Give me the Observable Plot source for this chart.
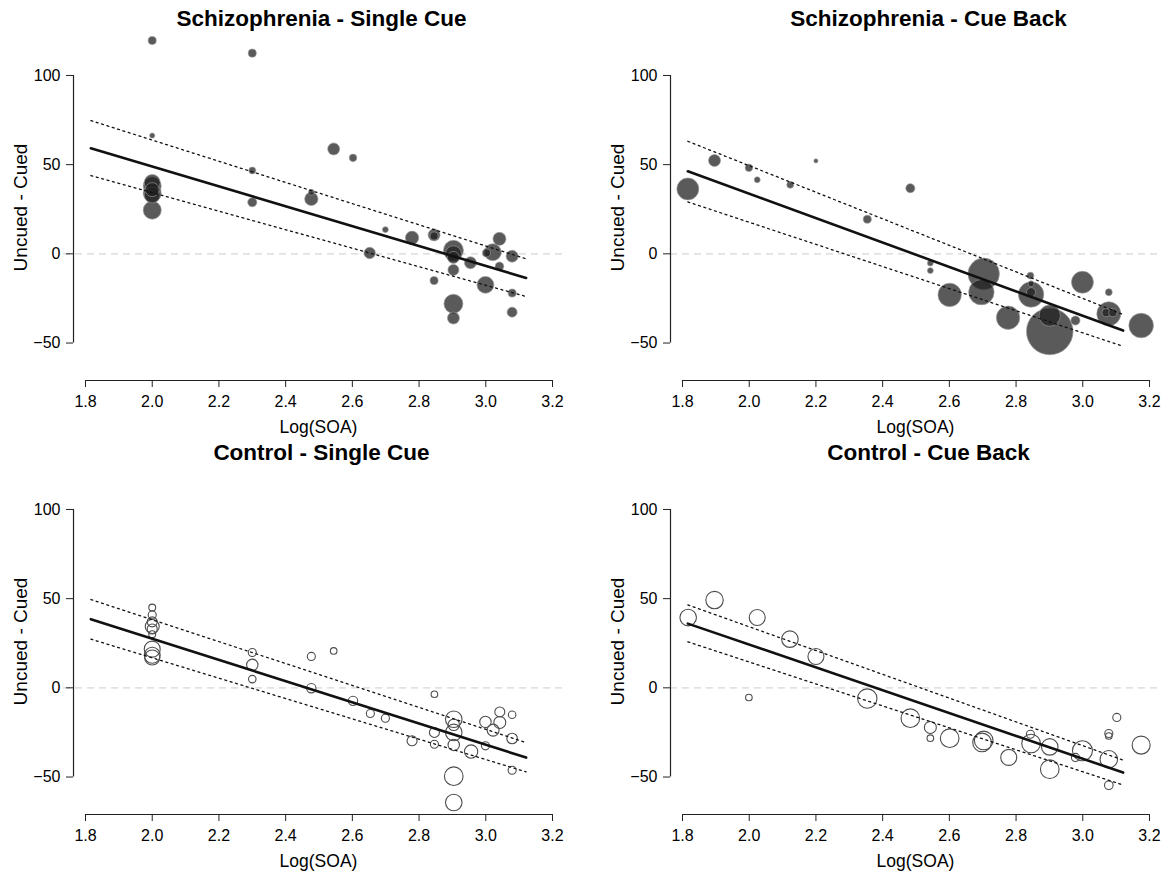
<!DOCTYPE html>
<html>
<head>
<meta charset="utf-8">
<script src="https://cdn.jsdelivr.net/npm/d3@7"></script>
<script src="https://cdn.jsdelivr.net/npm/@observablehq/plot@0.6"></script>
<style>
  html, body { margin: 0; padding: 0; background: #fff; }
  #grid { display: grid; grid-template-columns: 584px 584px; width: 1168px; }
  #grid svg { display: block; }
</style>
</head>
<body>
<div id="grid"></div>
<script>
// ---- tick labels ----
const xTicks = [1.8, 2.0, 2.2, 2.4, 2.6, 2.8, 3.0, 3.2];
const yTicks = [-50, 0, 50, 100];
const xLabel = "Log(SOA)";
const yLabel = "Uncued - Cued";
const titles = ["Schizophrenia - Single Cue", "Schizophrenia - Cue Back", "Control - Single Cue", "Control - Cue Back"];

// ---- studies: [log SOA, uncued - cued, weight] ----
const schizSingle = [
  [2.0, 119.6, 15], [2.3, 112.5, 15], [2.0, 66.3, 6], [2.3, 46.7, 11], [2.3, 28.9, 19],
  [2.0, 40, 59], [2.0, 38, 75], [2.0, 36, 45], [2.0, 34, 75], [2.0, 33, 59], [2.0, 24.5, 75],
  [2.477, 30.8, 41], [2.477, 34.5, 8], [2.544, 58.8, 33], [2.602, 53.8, 13], [2.699, 13.6, 8],
  [2.652, 0.5, 30], [2.779, 9, 41], [2.845, 10.6, 33], [2.845, 10, 15], [2.845, -15, 15],
  [2.903, 2, 92], [2.903, 0, 59], [2.903, -2, 33], [2.903, -9, 28], [2.903, -28, 83], [2.903, -36, 33],
  [2.954, -5, 33], [2.999, -17.4, 66], [3.021, 0.9, 66], [3.002, 0.5, 15], [3.041, 8.4, 39],
  [3.041, -7, 17], [3.079, -1.3, 33], [3.079, -22, 15], [3.079, -32.7, 23]
];
const schizBack = [
  [1.816, 36.4, 111], [1.896, 52.3, 33], [1.999, 48.2, 13], [2.024, 41.5, 8], [2.2, 52.1, 4],
  [2.123, 38.7, 11], [2.354, 19.4, 15], [2.483, 36.8, 19], [2.543, -5.2, 8], [2.543, -9.4, 8],
  [2.601, -23, 126], [2.703, -11.2, 227], [2.696, -21.5, 148], [2.776, -35.8, 126],
  [2.843, -12.2, 11], [2.845, -16.8, 8], [2.845, -22.8, 148], [2.845, -21.5, 19],
  [2.901, -34.6, 105], [2.901, -43.5, 500], [2.978, -37.4, 19], [2.999, -15.9, 111],
  [3.078, -21.5, 11], [3.078, -33.6, 133], [3.07, -33, 15], [3.09, -33, 15], [3.175, -40.2, 139]
];
const controlSingle = [
  [2.0, 45, 11], [2.0, 40.9, 15], [2.0, 37, 23], [2.0, 34.4, 45], [2.0, 33, 23], [2.0, 30.1, 11],
  [2.0, 21.7, 59], [2.0, 18.3, 59], [2.0, 17, 52], [2.3, 19.8, 15], [2.3, 12.9, 30], [2.3, 4.9, 13],
  [2.477, 17.6, 15], [2.477, -0.2, 20], [2.544, 20.7, 10], [2.602, -7.3, 20], [2.654, -14.4, 15],
  [2.699, -17, 15], [2.779, -29.7, 23], [2.846, -3.6, 10], [2.846, -25, 23], [2.846, -31.6, 15],
  [2.904, -17.6, 63], [2.904, -20.7, 30], [2.904, -25, 63], [2.904, -32, 30], [2.904, -49.5, 80],
  [2.904, -64.3, 63], [2.956, -35.7, 41], [2.999, -19.1, 30], [2.999, -32.5, 15], [3.022, -23.7, 33],
  [3.042, -13.5, 23], [3.042, -19.4, 33], [3.079, -15.1, 13], [3.079, -28.4, 26], [3.079, -46.2, 15]
];
const controlBack = [
  [1.817, 39.4, 63], [1.896, 49.2, 70], [2.024, 39.4, 59], [1.999, -5.4, 10], [2.122, 27.3, 63],
  [2.2, 17.6, 59], [2.354, -6, 86], [2.483, -17, 80], [2.543, -22.2, 33], [2.543, -28.2, 10],
  [2.601, -28.2, 80], [2.698, -30.6, 80], [2.703, -29.5, 80], [2.778, -39, 59], [2.843, -26, 15],
  [2.845, -31.2, 80], [2.901, -33.1, 63], [2.901, -45.6, 80], [2.978, -39, 15], [2.999, -35.3, 92],
  [3.102, -16.6, 15], [3.078, -25.6, 15], [3.078, -27, 10], [3.078, -40, 70], [3.078, -54.6, 17],
  [3.175, -32.1, 75]
];

// ---- regression lines: fitted value and band at the two ends ----
const fitX = [1.816, 3.121];
const schizSingleFit = [59.2, -13.5], schizSingleLo = [43.9, -23.9], schizSingleHi = [74.7, -2.8];
const schizBackFit = [46.3, -43.0], schizBackLo = [29.1, -51.8], schizBackHi = [63.1, -34.0];
const controlSingleFit = [38.5, -39.1], controlSingleLo = [27.3, -47.1], controlSingleHi = [49.5, -30.7];
const controlBackFit = [36.0, -47.5], controlBackLo = [25.8, -54.5], controlBackHi = [46.5, -40.5];

const FONT = "'Liberation Sans', Arial, Helvetica, sans-serif";

function panel({title, pts, fit, lo, hi, filled, left, top}) {
  const rows = pts.map(([x, y, n]) => ({x, y, n}));
  const line = fitX.map((x, i) => ({x, fit: fit[i], lo: lo[i], hi: hi[i]}));
  const height = top ? 438 : 443;
  const marginTop = top ? 30 : 26;
  const frameH = 350;
  const axisAt = 1.764;                       // where the y-axis line sits
  const axisShift = left ? 10 : 0;            // px between frame edge and y axis
  const xDomain = [left ? 1.734 : 1.764, 3.233];
  const yDomain = [-71.0, 125.2];
  return Plot.plot({
    width: 584,
    height,
    marginLeft: left ? 63 : 86,
    marginRight: left ? 21 : 8,
    marginTop,
    marginBottom: height - marginTop - frameH,
    x: {domain: xDomain},
    y: {domain: yDomain},
    r: {type: "sqrt", domain: [0, 500], range: [0, 23.3]},
    style: {fontFamily: FONT, fontSize: "16px", color: "#000", background: "#fff", overflow: "visible"},
    marks: [
      Plot.ruleY([0], {stroke: "#d6d6d6", strokeWidth: 1.4, strokeDasharray: "7,5"}),
      Plot.dot(rows, filled
        ? {x: "x", y: "y", r: "n", fill: "#202020", fillOpacity: 0.74, stroke: "#9a9a9a", strokeOpacity: 0.8, strokeWidth: 0.8}
        : {x: "x", y: "y", r: "n", fill: "none", stroke: "#4d4d4d", strokeWidth: 1.1}),
      Plot.line(line, {x: "x", y: "fit", stroke: "#111", strokeWidth: 2.6}),
      Plot.line(line, {x: "x", y: "lo", stroke: "#111", strokeWidth: 1.3, strokeDasharray: "2,3.6"}),
      Plot.line(line, {x: "x", y: "hi", stroke: "#111", strokeWidth: 1.3, strokeDasharray: "2,3.6"}),
      // axes (R style: line spans only the ticks)
      Plot.ruleX([axisAt], {y1: d3.min(yTicks), y2: d3.max(yTicks), stroke: "#222", strokeWidth: 1.2}),
      Plot.axisY({ticks: yTicks, tickSize: 7, tickPadding: 6, fontSize: 16, stroke: "#222", label: null, dx: axisShift}),
      Plot.ruleY([yDomain[0]], {x1: d3.min(xTicks), x2: d3.max(xTicks), stroke: "#222", strokeWidth: 1.2}),
      Plot.axisX({ticks: xTicks, tickFormat: d3.format(".1f"), tickSize: 7, tickPadding: 8, fontSize: 16, stroke: "#222", label: null}),
      Plot.text([yLabel], {frameAnchor: "left", rotate: -90, dx: axisShift - 53, dy: 2, textAnchor: "middle", lineAnchor: "middle", fontSize: 19, fill: "#000"}),
      Plot.text([xLabel], {frameAnchor: "bottom", dx: left ? 5 : 0, dy: 47, lineAnchor: "middle", fontSize: 17.5, fill: "#000"}),
      Plot.text([title], {frameAnchor: "top", dy: -12, dx: left ? 8 : 13, lineAnchor: "middle", fontSize: 22.5, fontWeight: "bold", fill: "#000"})
    ]
  });
}

const grid = document.getElementById("grid");
grid.append(
  panel({title: titles[0], pts: schizSingle, fit: schizSingleFit, lo: schizSingleLo, hi: schizSingleHi, filled: true, left: true, top: true}),
  panel({title: titles[1], pts: schizBack, fit: schizBackFit, lo: schizBackLo, hi: schizBackHi, filled: true, left: false, top: true}),
  panel({title: titles[2], pts: controlSingle, fit: controlSingleFit, lo: controlSingleLo, hi: controlSingleHi, filled: false, left: true, top: false}),
  panel({title: titles[3], pts: controlBack, fit: controlBackFit, lo: controlBackLo, hi: controlBackHi, filled: false, left: false, top: false})
);
</script>
</body>
</html>
